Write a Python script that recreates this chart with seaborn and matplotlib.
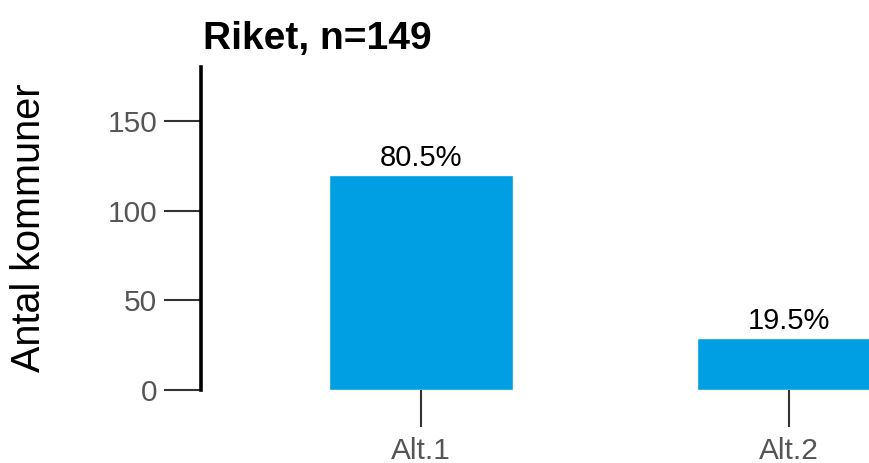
import matplotlib
matplotlib.use("Agg")
import matplotlib.pyplot as plt
import seaborn as sns
import pandas as pd

categories = ["Alt.1", "Alt.2"]
counts = [120, 29]
percent_labels = ["80.5%", "19.5%"]
title = "Riket, n=149"
ylabel = "Antal kommuner"
yticks = [0, 50, 100, 150]

sns.set_theme(style="white")
plt.rcParams["font.family"] = ["Liberation Sans", "DejaVu Sans"]

df = pd.DataFrame({"cat": categories, "n": counts})

fig = plt.figure(figsize=(8.69, 4.63), dpi=100)
ax = fig.add_axes([201 / 869, 73 / 463, 1 - 201 / 869, (390 - 67) / 463])

sns.barplot(data=df, x="cat", y="n", color="#009FE3", width=0.5, saturation=1,
            ax=ax)

ax.set_xlim(-0.598, 1.217)
ax.set_ylim(0, 180)
ax.set_yticks(yticks)
ax.set_xlabel("")
ax.set_ylabel("")

for s in ["top", "right", "bottom"]:
    ax.spines[s].set_visible(False)
ax.spines["left"].set_linewidth(2.6)
ax.spines["left"].set_color("black")

ax.tick_params(axis="both", which="major", length=26.5, width=1.5,
               color="#333333", labelcolor="#555555", labelsize=21.5, pad=5,
               left=True, bottom=True)
ax.tick_params(axis="x", pad=7)

for c, lab in zip(ax.containers, [percent_labels]):
    ax.bar_label(c, labels=lab, padding=2, fontsize=21, color="black")

ax.set_title(title, loc="left", fontsize=28, fontweight="bold", pad=13,
             color="black", x=0.003)

fig.text(29 / 869, 1 - 228 / 463, ylabel, rotation=90, ha="center",
         va="center", fontsize=28.5, color="black")

fig.savefig("out.png", dpi=100)
